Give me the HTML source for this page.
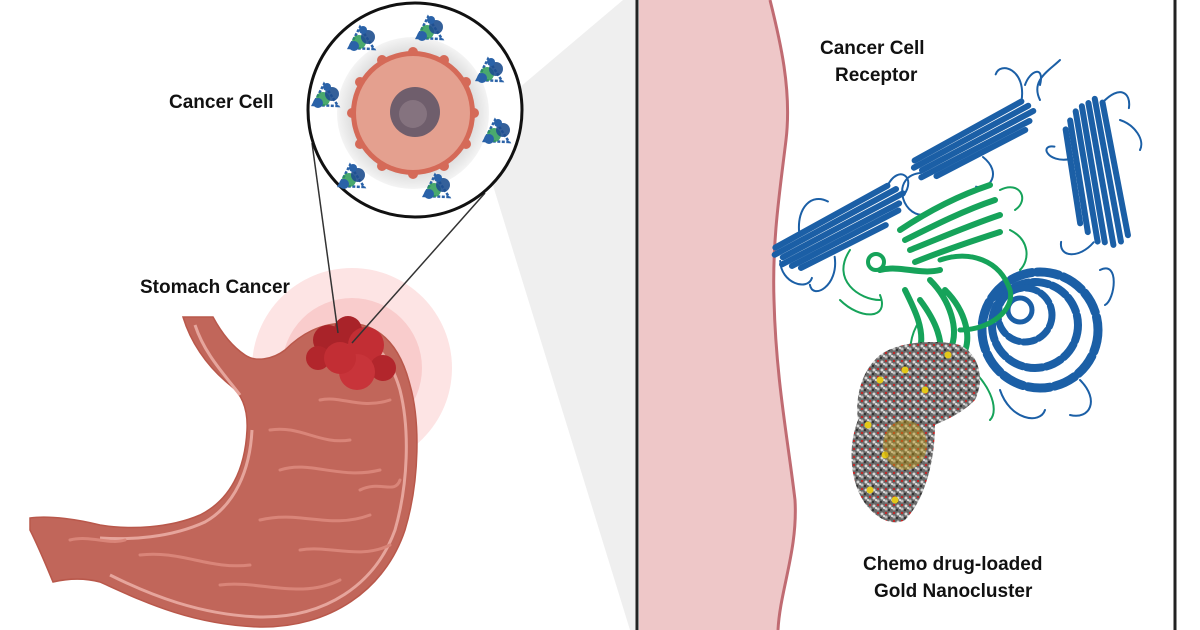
<!DOCTYPE html>
<html><head><meta charset="utf-8"><style>
html,body{margin:0;padding:0;background:#fff;}
svg{display:block}
text{font-family:"Liberation Sans",sans-serif;font-weight:bold;font-size:19px;fill:#111}
</style></head><body>
<svg width="1200" height="630" viewBox="0 0 1200 630" xmlns="http://www.w3.org/2000/svg">
<defs>
<pattern id="atoms" width="8" height="8" patternUnits="userSpaceOnUse">
<rect width="8" height="8" fill="#6a6a6a"/>
<circle cx="2" cy="2" r="1.5" fill="#d8d8d8"/><circle cx="6" cy="5" r="1.5" fill="#bdbdbd"/>
<circle cx="6" cy="1" r="1.1" fill="#c92020"/><circle cx="1" cy="6" r="1.2" fill="#333"/>
<circle cx="4" cy="4" r="1" fill="#eee"/>
</pattern>
<radialGradient id="halo" cx="0.5" cy="0.5" r="0.5">
<stop offset="0.75" stop-color="#d8d8d8"/><stop offset="1" stop-color="#f4f4f4"/>
</radialGradient>
<g id="rec">
<path d="M-13,8 L-2,-13 L12,9 Z" fill="none" stroke="#2a62a8" stroke-width="2.5" stroke-dasharray="3 1.5"/>
<circle cx="-3" cy="2" r="7" fill="#2a9a55" opacity="0.85"/>
<circle cx="6" cy="-3" r="7" fill="#1e4f8f" opacity="0.9"/>
<circle cx="-8" cy="6" r="5" fill="#2a62a8"/>
<circle cx="1" cy="-10" r="4" fill="#2a62a8"/>
</g>
</defs>
<polygon points="493,110 623,0 640,0 640,630 630,630 483,153" fill="#efefef"/>
<rect x="637" y="-3" width="538" height="640" fill="#fff" stroke="#222" stroke-width="3"/>
<path d="M639,0 L770,0 C780,40 792,90 786,140 C780,190 772,240 774,300 C776,380 788,440 795,500 C798,550 780,590 778,630 L639,630 Z" fill="#eec7c8"/>
<path d="M770,0 C780,40 792,90 786,140 C780,190 772,240 774,300 C776,380 788,440 795,500 C798,550 780,590 778,630" fill="none" stroke="#c06b72" stroke-width="3"/>
<g fill="none" stroke-linecap="round">
<g transform="translate(842,228) rotate(-28)" stroke="#1b5fa6" stroke-width="6">
<path d="M-68,-14 L60,-16"/><path d="M-72,-8 L66,-9"/><path d="M-66,-2 L70,-2"/><path d="M-70,4 L62,5"/><path d="M-62,10 L58,11"/><path d="M-55,16 L40,18"/>
<path d="M-70,0 C-80,20 -60,40 -50,30 M60,-16 C80,-30 90,-10 70,0 M-20,22 C-30,50 -60,50 -55,35 M-40,-16 C-30,-40 -10,-45 0,-30" stroke-width="2"/>
</g>
<g transform="translate(975,142) rotate(-28)" stroke="#1b5fa6" stroke-width="6">
<path d="M-62,-12 L60,-14"/><path d="M-66,-6 L64,-7"/><path d="M-60,0 L66,0"/><path d="M-64,6 L58,7"/><path d="M-50,12 L50,13"/>
<path d="M-62,2 C-90,-10 -100,30 -80,40 M60,-14 C80,-40 60,-60 50,-50 M0,17 C10,40 -10,50 -20,40" stroke-width="2"/>
</g>
<path d="M1040,100 C1030,80 1050,70 1060,60 M1025,85 C1030,70 1045,65 1040,85" stroke="#1b5fa6" stroke-width="2"/>
<g transform="translate(1095,175) rotate(80)" stroke="#1b5fa6" stroke-width="6">
<path d="M-70,-20 L65,-22"/><path d="M-75,-13 L70,-14"/><path d="M-72,-6 L72,-6"/><path d="M-70,1 L68,2"/><path d="M-66,8 L66,9"/><path d="M-58,15 L55,17"/><path d="M-50,21 L45,23"/>
<path d="M-70,-20 C-85,-40 -75,-50 -60,-45 M66,13 C80,30 75,50 60,45 M-20,22 C-20,45 -40,50 -35,35" stroke-width="2"/>
</g>
<path d="M1120,120 C1135,125 1145,140 1140,150" stroke="#1b5fa6" stroke-width="2"/>
<g stroke="#1b5fa6">
<circle cx="1040" cy="330" r="58" stroke-width="9" stroke-dasharray="22 5"/>
<circle cx="1035" cy="325" r="43" stroke-width="8" stroke-dasharray="16 4"/>
<circle cx="1025" cy="315" r="27" stroke-width="7" stroke-dasharray="12 4"/>
<circle cx="1020" cy="310" r="12" stroke-width="5"/>
<path d="M1000,390 C1010,420 1040,425 1045,410 M1080,380 C1100,400 1090,420 1070,415 M1100,270 C1120,260 1115,300 1105,305" stroke-width="2"/>
</g>
<g stroke="#16a35a">
<path d="M900,230 C930,210 960,195 990,185 M905,240 C935,225 965,210 995,200 M910,250 C940,238 970,225 1000,215 M915,262 C945,250 975,240 1000,232" stroke-width="6"/>
<path d="M880,270 C900,265 920,275 940,270 M930,280 C950,300 960,330 950,350 M945,290 C965,310 975,340 960,360 M920,300 C935,320 945,340 940,370 M905,290 C915,310 925,330 920,350" stroke-width="6"/>
<circle cx="876" cy="262" r="8" stroke-width="4"/>
<path d="M850,250 C830,280 860,300 880,300 M840,300 C860,320 890,320 880,295 M920,320 C900,350 910,390 960,395 M960,360 C990,380 1000,410 990,420 M1010,230 C1030,240 1030,260 1020,270 M1000,190 C1020,180 1030,200 1015,210" stroke-width="2"/>
<path d="M940,260 C970,250 1000,260 1010,290 C1015,310 990,330 960,330" stroke-width="5"/>
</g>
</g>
<path d="M880,355 C900,340 940,340 960,345 C980,355 985,380 975,400 C960,415 945,420 935,425 C935,460 925,500 905,520 C890,528 870,515 860,495 C848,470 850,440 858,420 C855,395 862,370 880,355 Z" fill="url(#atoms)"/>
<g fill="#e3c81a"><circle cx="880" cy="380" r="3.5"/><circle cx="948" cy="355" r="3.5"/><circle cx="905" cy="370" r="3.5"/><circle cx="868" cy="425" r="3.5"/><circle cx="885" cy="455" r="3.5"/><circle cx="895" cy="500" r="3.5"/><circle cx="925" cy="390" r="3.5"/><circle cx="870" cy="490" r="3.5"/></g>
<ellipse cx="905" cy="445" rx="22" ry="25" fill="#b8920f" opacity="0.45"/>
<text x="820" y="54">Cancer Cell</text>
<text x="835" y="81">Receptor</text>
<text x="863" y="570">Chemo drug-loaded</text>
<text x="874" y="597">Gold Nanocluster</text>
<circle cx="352" cy="368" r="100" fill="#fde4e4"/>
<circle cx="352" cy="368" r="70" fill="#f9cccc"/>
<path d="M183,317 C190,340 205,365 230,385 C243,395 248,410 247,430 C245,470 230,500 200,515 C170,528 130,530 100,525 C80,520 50,515 30,518 L30,530 C40,550 48,570 53,582 C70,578 85,578 100,582 C140,600 190,625 260,627 C330,628 385,590 405,530 C420,480 420,420 410,385 C400,345 380,325 350,323 C320,322 300,335 285,350 C272,360 255,362 245,355 C230,345 220,330 213,317 Z" fill="#c1665a" stroke="#b9584b" stroke-width="1.5"/>
<path d="M252,430 C250,470 235,505 205,522 C170,538 130,540 100,538 M110,575 C150,595 200,615 260,617 C325,618 375,585 395,530 C408,485 410,430 400,390 C390,355 370,335 350,335 M240,395 C225,375 205,355 195,325" fill="none" stroke="#e6a59c" stroke-width="3"/>
<g fill="none" stroke="#d98579" stroke-width="3" stroke-linecap="round">
<path d="M270,430 C300,425 320,445 350,440"/><path d="M280,470 C310,460 340,480 380,470"/><path d="M260,520 C300,510 330,530 370,515"/>
<path d="M140,555 C180,550 210,570 250,565"/><path d="M220,585 C260,580 300,600 340,580"/><path d="M300,550 C330,545 360,560 390,545"/>
<path d="M320,400 C340,395 360,410 390,400"/><path d="M360,490 C380,480 395,495 400,480"/><path d="M70,540 C90,535 110,545 125,540"/>
</g>
<g>
<circle cx="328" cy="340" r="15" fill="#a92329"/><circle cx="348" cy="330" r="14" fill="#a92329"/>
<circle cx="366" cy="345" r="18" fill="#c22e34"/><circle cx="383" cy="368" r="13" fill="#b2262c"/>
<circle cx="357" cy="372" r="18" fill="#c8343a"/><circle cx="318" cy="358" r="12" fill="#b2262c"/>
<circle cx="340" cy="358" r="16" fill="#c22e34"/>
</g>
<line x1="312" y1="143" x2="338" y2="333" stroke="#333" stroke-width="1.5"/>
<line x1="485" y1="193" x2="352" y2="343" stroke="#333" stroke-width="1.5"/>
<circle cx="415" cy="110" r="107" fill="#fff" stroke="#111" stroke-width="3"/>
<circle cx="413" cy="113" r="76" fill="url(#halo)"/>
<circle cx="413" cy="113" r="62" fill="#d56a58"/>
<g fill="#d56a58">
<circle cx="413" cy="52" r="5"/><circle cx="444" cy="60" r="5"/><circle cx="466" cy="82" r="5"/><circle cx="474" cy="113" r="5"/><circle cx="466" cy="144" r="5"/><circle cx="444" cy="166" r="5"/><circle cx="413" cy="174" r="5"/><circle cx="382" cy="166" r="5"/><circle cx="360" cy="144" r="5"/><circle cx="352" cy="113" r="5"/><circle cx="360" cy="82" r="5"/><circle cx="382" cy="60" r="5"/>
</g>
<circle cx="413" cy="113" r="57" fill="#e4a08f"/>
<circle cx="415" cy="112" r="25" fill="#6f5e6c"/>
<circle cx="413" cy="114" r="14" fill="#85737f"/>
<use href="#rec" x="362" y="40"/><use href="#rec" x="430" y="30"/><use href="#rec" x="490" y="72"/>
<use href="#rec" x="326" y="97"/><use href="#rec" x="497" y="133"/><use href="#rec" x="352" y="178"/><use href="#rec" x="437" y="188"/>
<text x="169" y="108">Cancer Cell</text>
<text x="140" y="293">Stomach Cancer</text>
</svg>
</body></html>
